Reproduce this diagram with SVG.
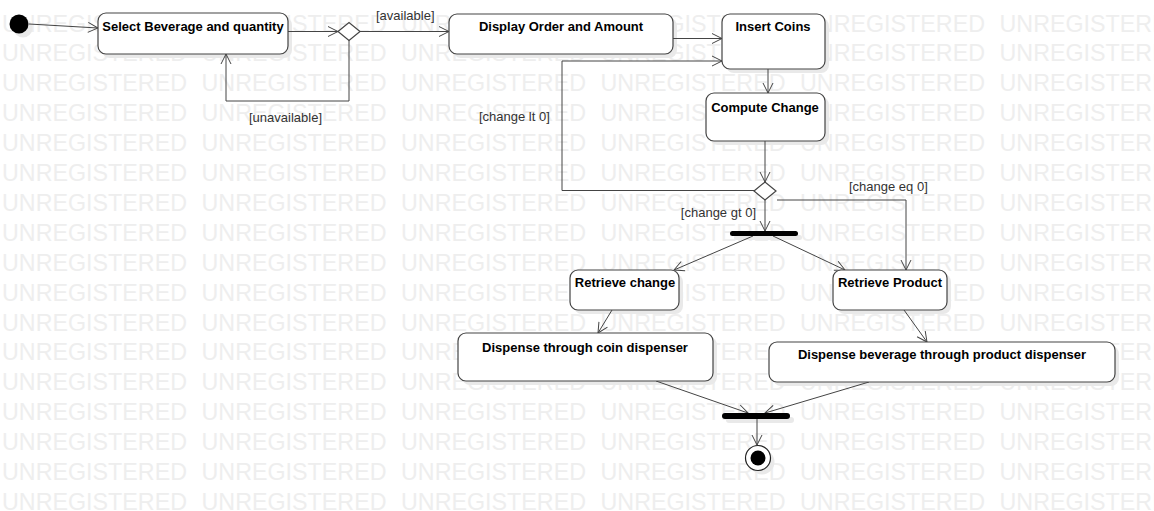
<svg xmlns="http://www.w3.org/2000/svg" xmlns:xlink="http://www.w3.org/1999/xlink" width="1154" height="511" viewBox="0 0 1154 511">
<style>
.wm{font-family:"Liberation Sans",Arial,sans-serif;font-size:24px;fill:#eeeeee}
.box{fill:#fff;stroke:#444;stroke-width:1.2}
.sh{fill:#e9e9e9;stroke:none}
.t{font-family:"Liberation Sans",Arial,sans-serif;font-size:13px;font-weight:bold;fill:#000;text-anchor:middle}
.lbl{font-family:"Liberation Sans",Arial,sans-serif;font-size:13px;fill:#333}
.c{fill:none;stroke:#444;stroke-width:1}
.bar{fill:#000}
</style>
<defs>
<marker id="ah" markerUnits="userSpaceOnUse" markerWidth="12" markerHeight="12" refX="11" refY="5.5" orient="auto" viewBox="0 0 12 11">
<path d="M1,0.5 L11,5.5 L1,10.5" fill="none" stroke="#444" stroke-width="1"/>
</marker>
<g id="wmrow">
<text class="wm" x="2" y="0" textLength="185" lengthAdjust="spacingAndGlyphs">UNREGISTERED</text>
<text class="wm" x="201.5" y="0" textLength="185" lengthAdjust="spacingAndGlyphs">UNREGISTERED</text>
<text class="wm" x="401" y="0" textLength="185" lengthAdjust="spacingAndGlyphs">UNREGISTERED</text>
<text class="wm" x="600.5" y="0" textLength="185" lengthAdjust="spacingAndGlyphs">UNREGISTERED</text>
<text class="wm" x="800" y="0" textLength="185" lengthAdjust="spacingAndGlyphs">UNREGISTERED</text>
<text class="wm" x="999.5" y="0" textLength="185" lengthAdjust="spacingAndGlyphs">UNREGISTERED</text>
</g>
</defs>
<rect width="1154" height="511" fill="#fff"/>
<g id="watermark">
<use xlink:href="#wmrow" y="31.5"/>
<use xlink:href="#wmrow" y="61.4"/>
<use xlink:href="#wmrow" y="91.3"/>
<use xlink:href="#wmrow" y="121.2"/>
<use xlink:href="#wmrow" y="151.1"/>
<use xlink:href="#wmrow" y="181"/>
<use xlink:href="#wmrow" y="210.9"/>
<use xlink:href="#wmrow" y="240.8"/>
<use xlink:href="#wmrow" y="270.7"/>
<use xlink:href="#wmrow" y="300.6"/>
<use xlink:href="#wmrow" y="330.5"/>
<use xlink:href="#wmrow" y="360.4"/>
<use xlink:href="#wmrow" y="390.3"/>
<use xlink:href="#wmrow" y="420.2"/>
<use xlink:href="#wmrow" y="450.1"/>
<use xlink:href="#wmrow" y="480"/>
<use xlink:href="#wmrow" y="509.9"/>
</g>
<g id="shadows">
<circle class="sh" cx="23" cy="28" r="9.5"/>
<rect class="sh" x="102" y="17" width="190" height="41" rx="8"/>
<rect class="sh" x="453" y="18" width="224" height="40" rx="8"/>
<rect class="sh" x="726" y="18" width="103" height="55" rx="8"/>
<rect class="sh" x="710" y="97" width="119" height="48" rx="8"/>
<rect class="sh" x="574" y="274" width="109" height="40" rx="8"/>
<rect class="sh" x="837" y="274" width="114" height="40" rx="8"/>
<rect class="sh" x="462" y="337" width="255" height="48" rx="8"/>
<rect class="sh" x="773" y="346" width="346" height="40" rx="8"/>
<rect class="sh" x="734" y="235" width="68" height="5" rx="2.5"/>
<rect class="sh" x="726" y="417" width="68" height="6" rx="3"/>
<circle class="sh" cx="762" cy="462" r="12.5"/>
</g>
<g id="connectors">
<line class="c" x1="29" y1="24" x2="98" y2="28" marker-end="url(#ah)"/>
<line class="c" x1="288" y1="31.5" x2="338" y2="31.5" marker-end="url(#ah)"/>
<line class="c" x1="360" y1="31.5" x2="449" y2="31.5" marker-end="url(#ah)"/>
<text class="lbl" x="376" y="20">[available]</text>
<polyline class="c" points="349,40 349,101 226,101 226,54" marker-end="url(#ah)"/>
<text class="lbl" x="249" y="122">[unavailable]</text>
<line class="c" x1="673" y1="38.5" x2="722" y2="38.5" marker-end="url(#ah)"/>
<line class="c" x1="768" y1="69" x2="768" y2="93" marker-end="url(#ah)"/>
<line class="c" x1="765" y1="141" x2="765" y2="182" marker-end="url(#ah)"/>
<polyline class="c" points="754,190.5 562,190.5 562,61 722,61" marker-end="url(#ah)"/>
<text class="lbl" x="479" y="121">[change lt 0]</text>
<line class="c" x1="765" y1="200" x2="765" y2="231" marker-end="url(#ah)"/>
<text class="lbl" x="756" y="217" text-anchor="end">[change gt 0]</text>
<polyline class="c" points="777,200 906,200 906,270" marker-end="url(#ah)"/>
<text class="lbl" x="849" y="191">[change eq 0]</text>
<line class="c" x1="753" y1="236" x2="674" y2="270" marker-end="url(#ah)"/>
<line class="c" x1="773" y1="236" x2="845" y2="270" marker-end="url(#ah)"/>
<line class="c" x1="612" y1="310" x2="598" y2="333" marker-end="url(#ah)"/>
<line class="c" x1="904" y1="310" x2="927" y2="342" marker-end="url(#ah)"/>
<line class="c" x1="656" y1="381" x2="748" y2="413" marker-end="url(#ah)"/>
<line class="c" x1="869" y1="382" x2="765" y2="413" marker-end="url(#ah)"/>
<line class="c" x1="757" y1="419" x2="757" y2="445" marker-end="url(#ah)"/>
</g>
<g id="initial"><circle cx="19" cy="24" r="9.5" fill="#000"/></g>
<g id="select"><rect class="box" x="98" y="13" width="190" height="41" rx="8"/><text class="t" x="193" y="30.5">Select Beverage and quantity</text></g>
<g id="decision1"><polygon class="box" points="338,31.5 349,22.5 360,31.5 349,40.5"/></g>
<g id="display"><rect class="box" x="449" y="14" width="224" height="40" rx="8"/><text class="t" x="561" y="30.5">Display Order and Amount</text></g>
<g id="insert"><rect class="box" x="722" y="14" width="103" height="55" rx="8"/><text class="t" x="773" y="31">Insert Coins</text></g>
<g id="compute"><rect class="box" x="706" y="93" width="119" height="48" rx="8"/><text class="t" x="765" y="111.5">Compute Change</text></g>
<g id="decision2"><polygon class="box" points="754,191 765,182 776,191 765,200"/></g>
<g id="fork"><rect class="bar" x="730" y="231" width="68" height="5" rx="2.5"/></g>
<g id="retrieveChange"><rect class="box" x="570" y="270" width="109" height="40" rx="8"/><text class="t" x="625" y="286.5">Retrieve change</text></g>
<g id="retrieveProduct"><rect class="box" x="833" y="270" width="114" height="40" rx="8"/><text class="t" x="890" y="286.5">Retrieve Product</text></g>
<g id="dispenseCoin"><rect class="box" x="458" y="333" width="255" height="48" rx="8"/><text class="t" x="585" y="351.5">Dispense through coin dispenser</text></g>
<g id="dispenseBeverage"><rect class="box" x="769" y="342" width="346" height="40" rx="8"/><text class="t" x="942" y="358.5">Dispense beverage through product dispenser</text></g>
<g id="join"><rect class="bar" x="722" y="413" width="68" height="6" rx="3"/></g>
<g id="final"><circle cx="758" cy="458" r="12.5" fill="#fff" stroke="#222" stroke-width="1.2"/><circle cx="758" cy="458" r="7.5" fill="#000"/></g>
</svg>
